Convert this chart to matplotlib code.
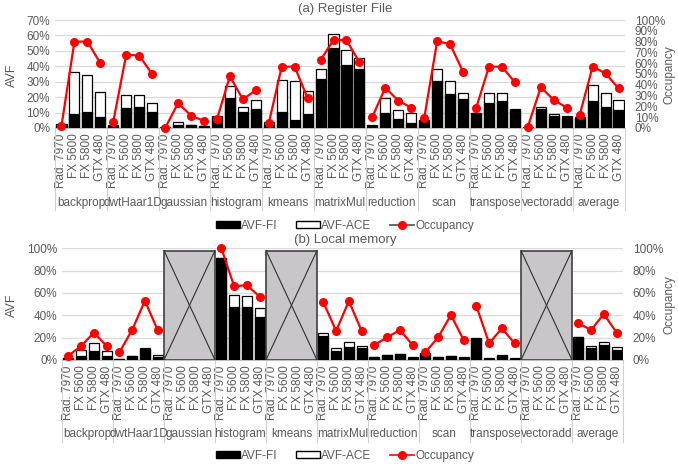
import numpy as np
import matplotlib
matplotlib.use('Agg')
import matplotlib.pyplot as plt
from matplotlib.patches import Patch, Rectangle
from matplotlib.lines import Line2D

plt.rcParams['font.family'] = ['Liberation Sans', 'DejaVu Sans']

GRAY = '#595959'
GRID = '#d9d9d9'
SEP = '#d0d0d0'

benchmarks = ['backprop', 'dwtHaar1D', 'gaussian', 'histogram', 'kmeans', 'matrixMul',
              'reduction', 'scan', 'transpose', 'vectoradd', 'average']
gpus = ['Rad. 7970', 'FX 5600', 'FX 5800', 'GTX 480']

# register file, values in percent, 4 GPUs per benchmark
rf_fi = [2, 9, 10.6, 7,
         1.5, 12.8, 13.4, 10.5,
         0.3, 2, 2, 1.2,
         7, 19.2, 10.6, 12.1,
         2, 10.6, 5.2, 8.9,
         31.5, 52, 40.8, 38.4,
         1.5, 9.5, 5.8, 3,
         5, 30.5, 22, 18.6,
         9.5, 16, 17.7, 11.7,
         0.5, 12.5, 7.8, 7.3,
         6.3, 17.5, 13.8, 11.7]
rf_ace = [2.6, 36.5, 34.3, 23.1,
          2, 21.4, 21.4, 16,
          0.5, 4.1, 2, 1.5,
          8, 27.4, 13.8, 18.1,
          3.7, 30.9, 30.3, 24.2,
          38, 61, 50.5, 45.2,
          2, 19.2, 11.7, 9.5,
          5.2, 38, 30.5, 22.5,
          9.5, 22.5, 22.5, 12.5,
          0.5, 13.4, 9, 7.8,
          7.3, 27.9, 22.5, 18.1]
rf_occ = [2, 80, 80, 60,
          6, 68, 67, 50,
          0, 23, 11.5, 6.5,
          8, 48, 26.5, 35,
          4.3, 56.8, 56.8, 27.5,
          63, 81.5, 81.5, 60.8,
          10.5, 37.3, 25.3, 18.8,
          9, 80.5, 77.5, 52,
          18.2, 56.8, 56.8, 42.3,
          1.2, 37.7, 26, 18.8,
          12, 56.8, 50.6, 36.7]

nan = np.nan
# local memory, no data for gaussian, kmeans and vectoradd
lm_fi = [1.5, 3.6, 8, 3.6,
         1, 3.5, 10, 2.7,
         nan, nan, nan, nan,
         91.3, 47.7, 47.2, 38.8,
         nan, nan, nan, nan,
         21.5, 8, 11.9, 10.4,
         2.5, 4.5, 5.3, 2,
         6, 2.3, 3.2, 2.2,
         19, 1.2, 4, 1.2,
         nan, nan, nan, nan,
         20.5, 10.4, 13.4, 9]
lm_ace = [1.8, 8.7, 14.9, 7.8,
          1.2, 3.9, 10.4, 4.5,
          nan, nan, nan, nan,
          91.5, 58, 57.6, 46.3,
          nan, nan, nan, nan,
          23.9, 10.4, 15.8, 12.2,
          3, 4.8, 5.7, 3,
          6.6, 2.7, 3.6, 2.7,
          19.4, 1.5, 4.5, 1.5,
          nan, nan, nan, nan,
          20.9, 12.8, 15.8, 11.4]
lm_occ = [3.9, 12.5, 24.5, 12.5,
          6.9, 26.9, 53, 26.9,
          nan, nan, nan, nan,
          100, 66, 67, 56.7,
          nan, nan, nan, nan,
          51.7, 26, 52.8, 26,
          13.4, 20.3, 26.9, 13.4,
          6.9, 20.3, 40.3, 17.9,
          48.3, 14.9, 28.4, 14.9,
          nan, nan, nan, nan,
          32.8, 26.9, 41.2, 24.5]


def draw_panel(fig, rect, fi, ace, occ, avf_max, avf_step, occ_step, sep_px, group_px):
    ax = fig.add_axes(rect)
    n = len(fi)
    x = np.arange(n)
    fi = np.array(fi) / 100
    ace = np.array(ace) / 100
    occ = np.array(occ) / 100

    ax.bar(x, ace, width=0.78, color='white', edgecolor='black', linewidth=0.9, zorder=2)
    ax.bar(x, fi, width=0.78, color='black', edgecolor='black', linewidth=0.9, zorder=3)

    ax.set_xlim(-0.5, n - 0.5)
    ax.set_ylim(0, avf_max)
    yt = np.arange(0, avf_max + 1e-9, avf_step)
    ax.set_yticks(yt)
    ax.set_yticklabels(['%d%%' % round(v * 100) for v in yt])
    ax.yaxis.grid(True, color=GRID, linewidth=0.9)
    ax.set_axisbelow(True)
    for s in ['top', 'right', 'left']:
        ax.spines[s].set_visible(False)
    ax.spines['bottom'].set_color('#bfbfbf')
    ax.tick_params(axis='both', length=0, colors=GRAY, labelsize=8.5)
    ax.set_xticks(x)
    ax.set_xticklabels(gpus * len(benchmarks), rotation=90, color=GRAY, fontsize=8.5)
    ax.tick_params(axis='x', pad=4)

    # group separators and benchmark names under the gpu labels
    trans = ax.get_xaxis_transform()
    h_px = rect[3] * fig.get_figheight() * fig.dpi
    for g in range(len(benchmarks) + 1):
        xs = 4 * g - 0.5
        ax.plot([xs, xs], [0, -sep_px / h_px], transform=trans, color=SEP,
                linewidth=0.8, clip_on=False, zorder=1)
    for g, name in enumerate(benchmarks):
        ax.text(4 * g + 1.5, -group_px / h_px, name, transform=trans, ha='center',
                va='center', color=GRAY, fontsize=8.5)

    # benchmarks without data get a crossed box
    for g in range(len(benchmarks)):
        if np.all(np.isnan(fi[4 * g:4 * g + 4])):
            x0, x1 = 4 * g - 0.5, 4 * g + 3.5
            top = 0.98 * avf_max
            ax.add_patch(Rectangle((x0, 0), x1 - x0, top, facecolor='#c8c6c8',
                                   edgecolor='#404040', linewidth=1.2, zorder=4))
            ax.plot([x0, x1], [0, top], color='#303030', linewidth=0.8, zorder=5)
            ax.plot([x0, x1], [top, 0], color='#303030', linewidth=0.8, zorder=5)

    ax2 = ax.twinx()
    for g in range(len(benchmarks)):
        sl = slice(4 * g, 4 * g + 4)
        ax2.plot(x[sl], occ[sl], color='#ff0000', linewidth=1.6, marker='o',
                 markersize=5.5, clip_on=False, zorder=6)
    ax2.set_ylim(0, 1)
    ot = np.arange(0, 1 + 1e-9, occ_step)
    ax2.set_yticks(ot)
    ax2.set_yticklabels(['%d%%' % round(v * 100) for v in ot])
    for s in ax2.spines.values():
        s.set_visible(False)
    ax2.tick_params(axis='y', length=0, colors=GRAY, labelsize=8.5, pad=7)
    return ax


W, H = 678, 468
fig = plt.figure(figsize=(W / 100, H / 100), dpi=100)


def frac(left, top, right, bottom):
    return [left / W, 1 - bottom / H, (right - left) / W, (bottom - top) / H]


ax_a = draw_panel(fig, frac(55, 20, 625, 128), rf_fi, rf_ace, rf_occ, 0.7, 0.1, 0.1, 82, 75)
ax_b = draw_panel(fig, frac(62, 248.3, 623, 360), lm_fi, lm_ace, lm_occ, 1.0, 0.2, 0.2, 82, 74)

fig.text(345 / W, 1 - 9 / H, '(a) Register File', ha='center', va='center', color=GRAY, fontsize=9.5)
fig.text(345 / W, 1 - 240 / H, '(b) Local memory', ha='center', va='center', color=GRAY, fontsize=9.5)

# axis titles
for yc in (75, 305):
    fig.text(12 / W, 1 - yc / H, 'AVF', rotation=90, ha='center', va='center',
             color=GRAY, fontsize=9)
    fig.text(670 / W, 1 - yc / H, 'Occupancy', rotation=90, ha='center', va='center',
             color=GRAY, fontsize=8.5)

labels = ['AVF-FI', 'AVF-ACE', 'Occupancy']
for yc, occ_line in ((226, '#505050'), (456, '#ff0000')):
    handles = [Patch(facecolor='black', edgecolor='black'),
               Patch(facecolor='white', edgecolor='black'),
               Line2D([], [], color=occ_line, linewidth=1.2, marker='o', markersize=5.5,
                      markerfacecolor='#ff0000', markeredgecolor='#ff0000')]
    fig.legend(handles, labels, loc='center', bbox_to_anchor=(345 / W, 1 - yc / H), ncol=3,
               frameon=False, fontsize=8.5, labelcolor=GRAY, handlelength=2.0,
               handleheight=0.5, handletextpad=0.1, columnspacing=1.6)

fig.savefig('out.png', dpi=100)
